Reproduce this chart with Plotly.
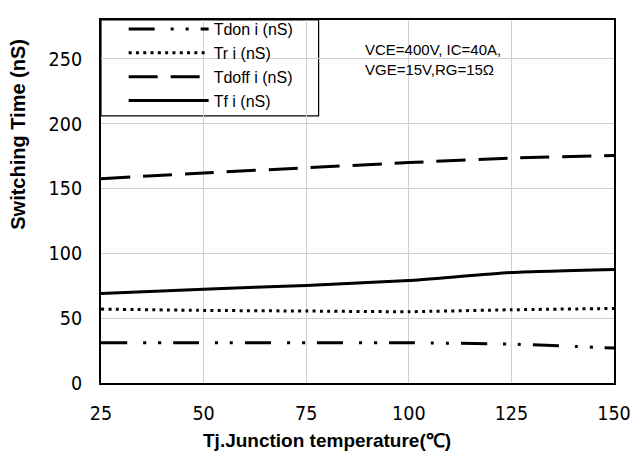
import plotly.graph_objects as go

temps = [25, 50, 75, 100, 125, 150]
tdon = [31, 31, 31, 31, 30, 27]
tr = [57, 56, 55.5, 55, 56.5, 57.5]
tdoff = [157.6, 162, 166, 170, 173.5, 175.5]
tf = [69, 72.3, 75.3, 79, 85.3, 87.6]

x_ticks = [25, 50, 75, 100, 125, 150]
y_ticks = [0, 50, 100, 150, 200, 250]

fig = go.Figure()
series = [
    ("Tdon i (nS)", tdon, "26px,16px,3px,12px,3px,12px"),
    ("Tr i (nS)", tr, "3px,4.3px"),
    ("Tdoff i (nS)", tdoff, "29px,13px"),
    ("Tf i (nS)", tf, "solid"),
]
for name, ys, dash in series:
    fig.add_trace(go.Scatter(x=temps, y=ys, name=name, mode="lines",
                             line=dict(color="black", width=3, dash=dash, shape="spline", smoothing=0.4)))

pw, ph = 643 - 101 - 21, 459 - 12 - 76

def px(x):
    return (x - 101) / pw

def py(y):
    return (383 - y) / ph

# legend frame
fig.add_shape(type="rect", xref="paper", yref="paper", x0=px(101), x1=px(322), y0=py(110), y1=py(12),
              fillcolor="white", line=dict(width=1.2, color="black"), layer="between")
# white box behind the condition text (covers gridlines, below traces)
fig.add_shape(type="rect", xref="paper", yref="paper", x0=px(348), x1=px(558), y0=py(80), y1=py(23),
              fillcolor="white", line=dict(width=0), layer="between")
fig.add_annotation(x=px(367), y=py(52), xref="paper", yref="paper", xanchor="left", yanchor="middle",
                   text="VCE=400V, IC=40A,<br>VGE=15V,RG=15Ω", showarrow=False, align="left",
                   font=dict(family="Liberation Sans, Arial", size=15, color="black"))

# axis titles
fig.add_annotation(x=px(331), y=py(442), xref="paper", yref="paper", xanchor="center", yanchor="middle",
                   text="<b>Tj.Junction temperature(℃)</b>", showarrow=False,
                   font=dict(family="Liberation Sans, Arial", size=19, color="black"))
fig.add_annotation(x=px(17), y=py(129), xref="paper", yref="paper", xanchor="center", yanchor="middle",
                   text="<b>Switching Time (nS)</b>", textangle=-90, showarrow=False,
                   font=dict(family="Liberation Sans, Arial", size=20, color="black"))

tickfont = dict(family="DejaVu Sans Condensed, DejaVu Sans, Verdana", size=19.5, color="black")
fig.update_layout(
    width=643, height=459,
    margin=dict(l=101, r=21, t=12, b=76),
    plot_bgcolor="white", paper_bgcolor="white",
    legend=dict(x=px(124), y=py(4), xanchor="left", yanchor="top", bgcolor="rgba(0,0,0,0)",
                borderwidth=0, itemwidth=80,
                font=dict(family="Liberation Sans, Arial", size=16, color="black"),
                tracegroupgap=0),
    xaxis=dict(range=[25, 150], tickvals=x_ticks, showgrid=True, gridcolor="#d0d0d0", gridwidth=1,
               showline=True, linecolor="black", linewidth=2, mirror=True, ticks="",
               ticklabelstandoff=12, tickfont=tickfont, zeroline=False),
    yaxis=dict(range=[0, 280], tickvals=y_ticks, showgrid=True, gridcolor="#d0d0d0", gridwidth=1,
               showline=True, linecolor="black", linewidth=2, mirror=True, ticks="",
               ticklabelstandoff=13, tickfont=tickfont, zeroline=False),
)
fig.write_html("out.html", config={"displayModeBar": False},
               post_script="document.body.style.margin='0px';")
